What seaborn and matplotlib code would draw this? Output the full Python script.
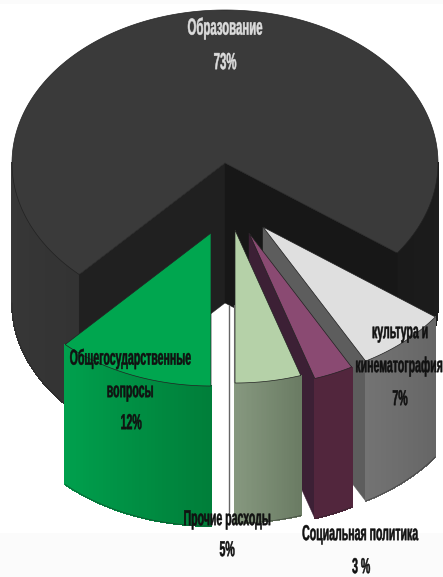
import numpy as np
import matplotlib
matplotlib.use('Agg')
import matplotlib.pyplot as plt
from matplotlib.patheffects import AbstractPathEffect
from matplotlib.transforms import Affine2D
import seaborn as sns

# shares of the budget, going round from the big slice
labels = ['Образование', 'Общегосударственные\nвопросы', 'Прочие расходы',
          'Социальная политика', 'культура и\nкинематография']
shares = [73, 12, 5, 3, 7]
share_text = ['73%', '12%', '5%', '3 %', '7%']

# layout in pixels
CX, CY = 225, 163
RX, RY = 213, 153
DEPTH = 140
START = -36
offsets = [(0, 0), (-14, 70), (10, 67), (24, 70), (38, 64)]

top_colors = ['#3a3a3a', '#00a64f', '#b5d1a8', '#8a4a72', '#dfdfdf']
wall_colors = ['#1f1f1f', '#007f3a', '#7f957a', '#3c2035', '#5d5d5d']
side_from = ['#383838', '#00a04d', '#86987f', '#52263d', '#737373']
side_to = ['#333333', '#007f3a', '#6b7c64', '#52263d', '#666666']
label_pos = [[(225, 28), (225, 63)],
             [(130, 358), (130, 391), (131, 423)],
             [(227, 519), (227, 550)],
             [(360, 534), (361, 567)],
             [(400, 332), (399, 366), (400, 399)]]
label_colors = ['#dcdcdc', '#111111', '#111111', '#111111', '#111111']
label_sizes = [8.2, 7.6, 7.6, 7.6, 7.6]

sns.set_theme(style='white')
plt.rcParams['font.family'] = ['Liberation Sans', 'DejaVu Sans']

fig = plt.figure(figsize=(4.43, 5.77), dpi=100)
ax = fig.add_axes([0, 0, 1, 1])
ax.set_xlim(0, 443)
ax.set_ylim(577, 0)
ax.axis('off')

# faint background bands of the slide
ax.fill_between([0, 443], 533, 577, color='#fbfbfb', lw=0, zorder=0)
ax.fill_between([0, 443], 0, 4, color='#fbfbfb', lw=0, zorder=0)

order = [1]


def z():
    # painter's order, everything is stacked in drawing order
    order[0] += 1
    return order[0]


class TallText(AbstractPathEffect):
    # the original lettering is tall and narrow, no condensed font here
    def __init__(self, y_px, k, stroke=0.35):
        super().__init__()
        self.y0 = 577 - y_px
        self.k = k
        self.stroke = stroke

    def draw_path(self, renderer, gc, tpath, affine, rgbFace=None):
        squeeze = Affine2D().translate(0, -self.y0).scale(1, self.k).translate(0, self.y0)
        gc0 = renderer.new_gc()
        gc0.copy_properties(gc)
        gc0.set_foreground(rgbFace)
        gc0.set_linewidth(self.stroke)
        renderer.draw_path(gc0, tpath, affine + squeeze, rgbFace)
        gc0.restore()


def pt(cx, cy, deg):
    r = np.radians(deg)
    return cx + RX * np.cos(r), cy - RY * np.sin(r)


def arc(cx, cy, a0, a1, n=80):
    return [pt(cx, cy, a) for a in np.linspace(a0, a1, n)]


def draw_side(cx, cy, a0, a1, c0, c1, n=40):
    cols = sns.blend_palette([c0, c1], n)
    edges = np.linspace(a0, a1, n + 1)
    for i in range(n):
        p = arc(cx, cy, edges[i], edges[i + 1], 4)
        poly = p + [(x, y + DEPTH) for x, y in p[::-1]]
        ax.fill(*zip(*poly), color=cols[i], lw=0.6, antialiased=False, zorder=z())
    low = arc(cx, cy, a0, a1)
    ax.plot([x for x, y in low], [y + DEPTH for x, y in low], color='#222222', lw=0.5, alpha=0.6, zorder=z())


def draw_wall(cx, cy, deg, color):
    x, y = pt(cx, cy, deg)
    poly = [(cx, cy), (x, y), (x, y + DEPTH), (cx, cy + DEPTH)]
    ax.fill(*zip(*poly), color=color, lw=0.3, zorder=z())


def draw_top(cx, cy, a0, a1, color):
    poly = [(cx, cy)] + arc(cx, cy, a0, a1, 200)
    ax.fill(*zip(*poly), facecolor=color, edgecolor='#222222', lw=0.5, zorder=z())


angles = np.array(shares) * 3.6
ends = START + np.cumsum(angles)
starts = ends - angles

# big slice first, its open part faces the viewer
draw_side(CX, CY, 180, ends[0], side_from[0], side_to[0], 20)
draw_side(CX, CY, starts[0], 0, '#1a1a1a', '#1c1c1c', 20)
draw_wall(CX, CY, ends[0], '#202020')
draw_wall(CX, CY, starts[0], '#171717')
draw_top(CX, CY, starts[0], ends[0], top_colors[0])

# thin rules in the gap next to the light green slice
ax.plot([229, 229], [305, 512], color='#666666', lw=1, zorder=z())
ax.plot([234, 234], [305, 382], color='#888888', lw=0.8, zorder=z())

# front slices, back to front, angles wrapped to the lower half
for i in [4, 3, 2, 1]:
    dx, dy = offsets[i]
    a0 = ends[i] - 360 - angles[i]
    a1 = ends[i] - 360
    cx, cy = CX + dx, CY + dy
    if a0 > -90:
        draw_wall(cx, cy, a0, wall_colors[i])
    draw_side(cx, cy, a0, a1, side_from[i], side_to[i])
    draw_top(cx, cy, a0, a1, top_colors[i])

for i in range(5):
    lines = labels[i].split('\n') + [share_text[i]]
    for s, (x, y) in zip(lines, label_pos[i]):
        t = ax.text(x, y, s, ha='center', va='center', fontsize=label_sizes[i],
                    fontweight='bold', color=label_colors[i], zorder=1000)
        t.set_path_effects([TallText(y, 2.05)])

fig.savefig('out.png', dpi=100)
